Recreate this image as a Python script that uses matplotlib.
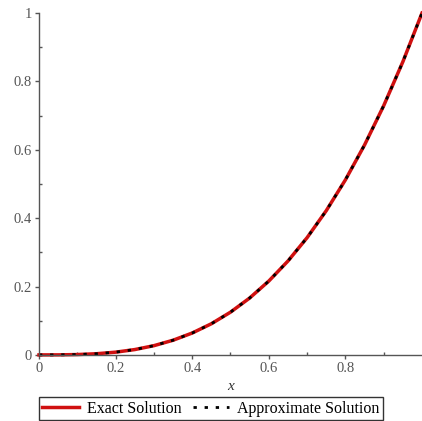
import matplotlib
matplotlib.use('Agg')
import matplotlib.pyplot as plt

# --- data ---
x_vals = [0.0, 0.05, 0.1, 0.15, 0.2, 0.25, 0.3, 0.35, 0.4, 0.45, 0.5,
          0.55, 0.6, 0.65, 0.7, 0.75, 0.8, 0.85, 0.9, 0.95, 1.0]
exact_vals = [0.0, 0.0001, 0.001, 0.0034, 0.008, 0.0156, 0.027, 0.0429, 0.064, 0.0911, 0.125,
              0.1664, 0.216, 0.2746, 0.343, 0.4219, 0.512, 0.6141, 0.729, 0.8574, 1.0]
approx_vals = [0.0, 0.0001, 0.001, 0.0034, 0.008, 0.0156, 0.027, 0.0429, 0.064, 0.0911, 0.125,
               0.1664, 0.216, 0.2746, 0.343, 0.4219, 0.512, 0.6141, 0.729, 0.8574, 1.0]
x_ticks = [0, 0.2, 0.4, 0.6, 0.8]
x_ticklabels = ['0', '0.2', '0.4', '0.6', '0.8']
y_ticks = [0, 0.2, 0.4, 0.6, 0.8, 1]
y_ticklabels = ['0', '0.2', '0.4', '0.6', '0.8', '1']

plt.rcParams['font.family'] = ['Liberation Serif', 'DejaVu Serif']

fig = plt.figure(figsize=(4.22, 4.21), dpi=100)
ax = fig.add_axes([0.0924, 0.157, 0.9076, 0.812])

ax.plot(x_vals, exact_vals, color='#d01010', lw=2.5, label='Exact Solution', clip_on=False)
ax.plot(x_vals, approx_vals, color='black', lw=2.0, linestyle=(0, (1.2, 2.8)),
        label='Approximate Solution', clip_on=False)

ax.set_xlim(0, 1)
ax.set_ylim(0, 1)
for s in ['top', 'right']:
    ax.spines[s].set_visible(False)
for s in ['left', 'bottom']:
    ax.spines[s].set_color('#555555')
    ax.spines[s].set_linewidth(1.0)

ax.set_xticks(x_ticks)
ax.set_xticklabels(x_ticklabels)
ax.set_yticks(y_ticks)
ax.set_yticklabels(y_ticklabels)
ax.set_xticks([0.1, 0.3, 0.5, 0.7, 0.9], minor=True)
ax.set_yticks([0.1, 0.3, 0.5, 0.7, 0.9], minor=True)
ax.tick_params(which='major', direction='out', length=3, width=1, color='#555555',
               labelsize=10.5, labelcolor='#555555', pad=2)
ax.tick_params(which='minor', direction='in', length=2, width=1, color='#555555')

ax.set_xlabel('x', style='italic', fontsize=11, color='#333333', labelpad=4)

leg = fig.legend(loc='lower center', bbox_to_anchor=(0.5, 0.003), ncol=2,
                 fontsize=11.5, frameon=True, fancybox=False, handlelength=2.3,
                 handletextpad=0.5, columnspacing=0.7, borderpad=0.2,
                 borderaxespad=0.0)
leg.get_frame().set_edgecolor('black')
leg.get_frame().set_linewidth(1.0)

fig.savefig('out.png', dpi=100)
